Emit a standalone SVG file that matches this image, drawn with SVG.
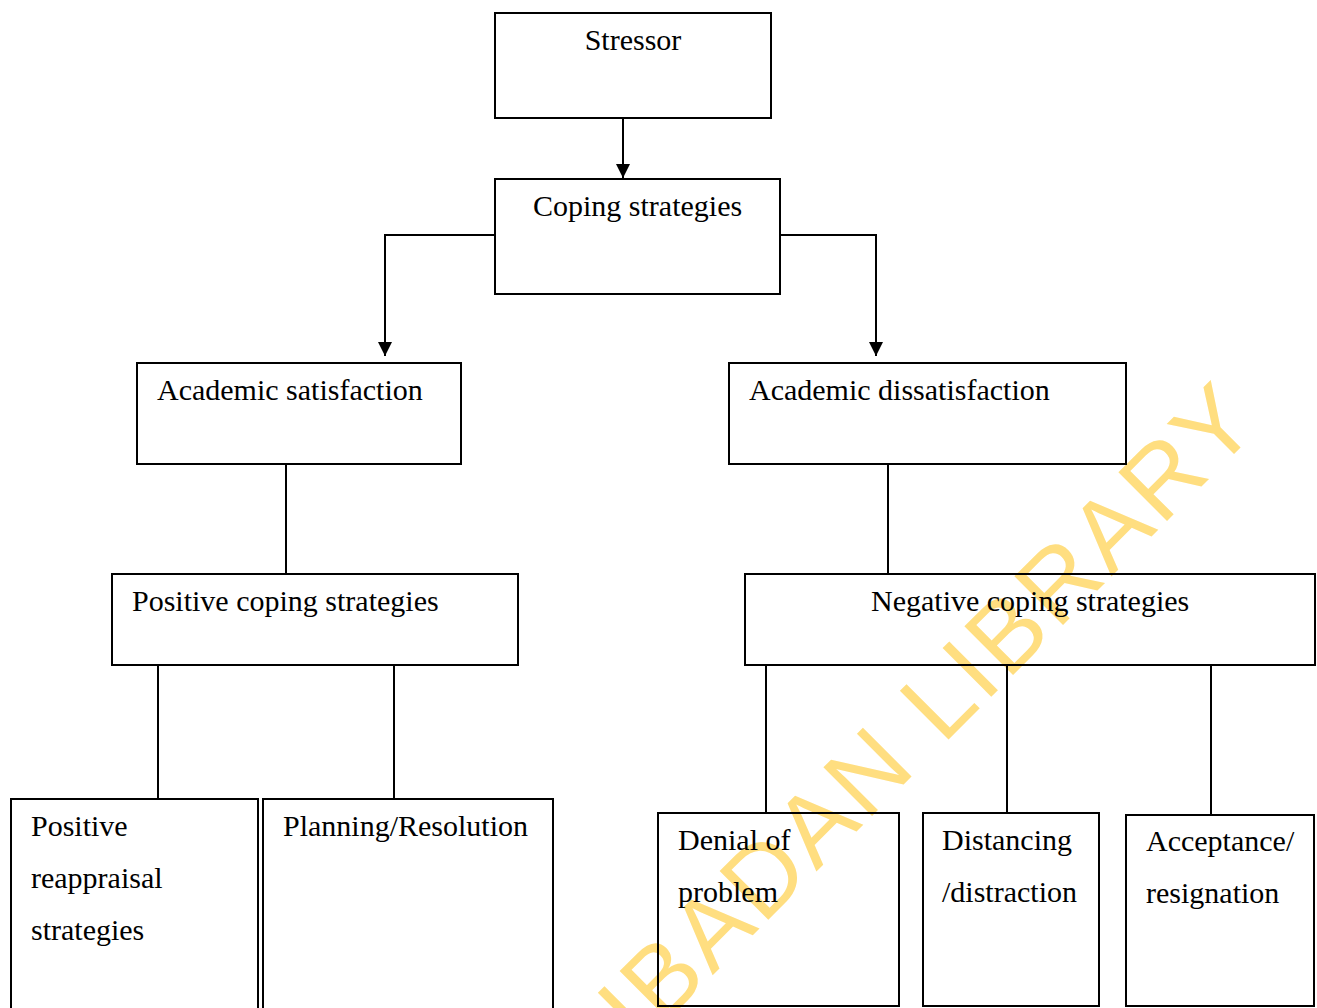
<svg xmlns="http://www.w3.org/2000/svg" width="1317" height="1008" viewBox="0 0 1317 1008">
<style>
.box{fill:none;stroke:#000;stroke-width:2}
.t{font-family:"Liberation Serif","Times New Roman",serif;font-size:30px;fill:#000}
.c{fill:none;stroke:#000;stroke-width:2}
.wm{font-family:"Liberation Sans",Arial,sans-serif;font-size:100px;letter-spacing:4px;fill:#FFDE80}
</style>
<defs>
<marker id="ah" viewBox="0 0 14 14" refX="14" refY="7" markerWidth="14" markerHeight="14" markerUnits="userSpaceOnUse" orient="auto">
<path d="M0,0 L14,7 L0,14 Z" fill="#000"/>
</marker>
</defs>
<rect width="1317" height="1008" fill="#fff"/>
<g id="watermark">
<text class="wm" transform="translate(640,1048) rotate(-45)">IBADAN LIBRARY</text>
</g>
<g id="connectors">
<path class="c" d="M623,118 V178" marker-end="url(#ah)"/>
<path class="c" d="M495,235 H385 V356" marker-end="url(#ah)"/>
<path class="c" d="M780,235 H876 V356" marker-end="url(#ah)"/>
<path class="c" d="M286,465 V574"/>
<path class="c" d="M888,465 V574"/>
<path class="c" d="M158,665 V799"/>
<path class="c" d="M394,665 V799"/>
<path class="c" d="M766,665 V813"/>
<path class="c" d="M1007,665 V813"/>
<path class="c" d="M1211,665 V815"/>
</g>
<g id="stressor">
<rect class="box" x="495" y="13" width="276" height="105"/>
<text class="t" x="633" y="50" text-anchor="middle">Stressor</text>
</g>
<g id="coping">
<rect class="box" x="495" y="179" width="285" height="115"/>
<text class="t" x="533" y="216">Coping strategies</text>
</g>
<g id="satisfaction">
<rect class="box" x="137" y="363" width="324" height="101"/>
<text class="t" x="157" y="400">Academic satisfaction</text>
</g>
<g id="dissatisfaction">
<rect class="box" x="729" y="363" width="397" height="101"/>
<text class="t" x="749" y="400">Academic dissatisfaction</text>
</g>
<g id="positive">
<rect class="box" x="112" y="574" width="406" height="91"/>
<text class="t" x="132" y="611">Positive coping strategies</text>
</g>
<g id="negative">
<rect class="box" x="745" y="574" width="570" height="91"/>
<text class="t" x="871" y="611">Negative coping strategies</text>
</g>
<g id="reappraisal">
<rect class="box" x="11" y="799" width="247" height="215"/>
<text class="t" x="31" y="836">Positive</text>
<text class="t" x="31" y="888">reappraisal</text>
<text class="t" x="31" y="940">strategies</text>
</g>
<g id="planning">
<rect class="box" x="263" y="799" width="290" height="215"/>
<text class="t" x="283" y="836">Planning/Resolution</text>
</g>
<g id="denial">
<rect class="box" x="658" y="813" width="241" height="193"/>
<text class="t" x="678" y="850">Denial of</text>
<text class="t" x="678" y="902">problem</text>
</g>
<g id="distancing">
<rect class="box" x="923" y="813" width="176" height="193"/>
<text class="t" x="942" y="850">Distancing</text>
<text class="t" x="942" y="902">/distraction</text>
</g>
<g id="acceptance">
<rect class="box" x="1126" y="815" width="188" height="191"/>
<text class="t" x="1146" y="851">Acceptance/</text>
<text class="t" x="1146" y="903">resignation</text>
</g>
</svg>
